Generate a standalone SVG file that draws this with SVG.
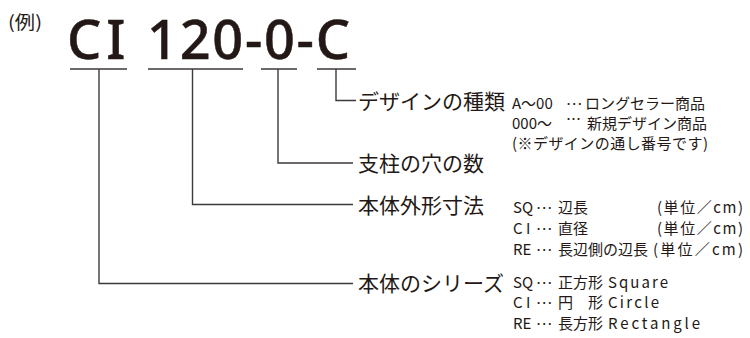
<svg xmlns="http://www.w3.org/2000/svg" width="750" height="338" viewBox="0 0 750 338">
<style>
text{font-family:"Noto Sans CJK JP","Noto Sans",sans-serif;fill:#231815}
.t{font-family:"Noto Sans",sans-serif;font-size:54px;font-weight:500;stroke:#231815;stroke-width:0.5}
.ex{font-size:18px}
.lb{font-size:21px}
.sm{font-size:15px}
.c{fill:none;stroke:#3e3a39;stroke-width:1.4}
</style>
<rect width="750" height="338" fill="#fff"/>
<g id="connectors">
<path class="c" d="M70 69H127M99 69V283.5H353"/>
<path class="c" d="M148 69H243M192.5 69V204.5H353"/>
<path class="c" d="M261 69H297M278 69V163H353"/>
<path class="c" d="M317 69H356M336 69V100.5H356"/>
</g>
<g id="example">
<text class="ex" x="8" y="29" textLength="34" lengthAdjust="spacingAndGlyphs">(例)</text>
</g>
<g id="title">
<text class="t" x="67" y="59" letter-spacing="5">CI</text>
<text class="t" x="147" y="59" textLength="203">120-0-C</text>
</g>
<g id="design-type">
<text class="lb" x="358" y="108.5">デザインの種類</text>
<text class="sm" y="108.5"><tspan x="512">A～00</tspan><tspan x="566" y="104.5" textLength="13">…</tspan><tspan x="585" y="108.5">ロングセラー商品</tspan></text>
<text class="sm" y="128.5"><tspan x="512">000～</tspan><tspan x="566" y="124.5" textLength="13">…</tspan><tspan x="587" y="128.5">新規デザイン商品</tspan></text>
<text class="sm" x="512" y="149" textLength="196">(※デザインの通し番号です)</text>
</g>
<g id="holes">
<text class="lb" x="358" y="171">支柱の穴の数</text>
</g>
<g id="size">
<text class="lb" x="358" y="212.5">本体外形寸法</text>
<text class="sm" y="213"><tspan x="513">SQ</tspan><tspan x="536" y="209" textLength="13">…</tspan><tspan x="558" y="213">辺長</tspan><tspan x="657" textLength="86">(単位／cm)</tspan></text>
<text class="sm" y="234"><tspan x="513">C I</tspan><tspan x="536" y="230" textLength="13">…</tspan><tspan x="558" y="234">直径</tspan><tspan x="657" textLength="86">(単位／cm)</tspan></text>
<text class="sm" y="254.5"><tspan x="513">RE</tspan><tspan x="536" y="250.5" textLength="13">…</tspan><tspan x="558" y="254.5">長辺側の辺長</tspan><tspan x="653" textLength="90">(単位／cm)</tspan></text>
</g>
<g id="series">
<text class="lb" x="358" y="291">本体のシリーズ</text>
<text class="sm" y="287.5"><tspan x="513">SQ</tspan><tspan x="536" y="283.5" textLength="13">…</tspan><tspan x="558" y="287.5">正方形</tspan><tspan x="608" textLength="60">Square</tspan></text>
<text class="sm" y="308"><tspan x="513">C I</tspan><tspan x="536" y="304" textLength="13">…</tspan><tspan x="558" y="308">円　形</tspan><tspan x="608" textLength="51">Circle</tspan></text>
<text class="sm" y="328.5"><tspan x="513">RE</tspan><tspan x="536" y="324.5" textLength="13">…</tspan><tspan x="558" y="328.5">長方形</tspan><tspan x="608" textLength="92">Rectangle</tspan></text>
</g>
</svg>
